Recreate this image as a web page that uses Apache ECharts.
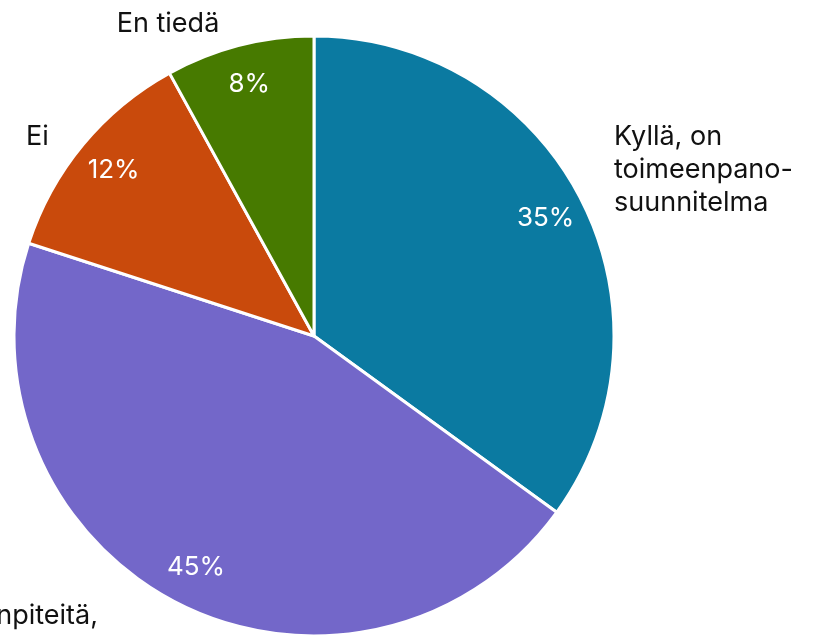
<!DOCTYPE html>
<html>
<head>
<meta charset="utf-8">
<script src="https://cdn.jsdelivr.net/npm/echarts@6/dist/echarts.min.js"></script>
<style>
html,body{margin:0;padding:0;background:#fff;}
#chart{width:831px;height:635px;}
</style>
</head>
<body>
<div id="chart"></div>
<script>
const categories = ["Kyllä, on\ntoimeenpano-\nsuunnitelma", "Kyllä, on toimenpiteitä,\nmutta ei suunnitelmaa", "Ei", "En tiedä"];
const values = [35, 45, 12, 8];
const colors = ["#0b7aa1", "#7367c9", "#c94a0c", "#477a00"];

// label anchors for outer category labels (text placement only)
const labelAnchors = [
  {x: 614, y: 120, align: "left"},
  {x: 98, y: 599, align: "right"},
  {x: 26, y: 120, align: "left"},
  {x: 168, y: 7, align: "center"}
];

const FONT = "Inter, sans-serif";
const chart = echarts.init(document.getElementById('chart'));
const data = categories.map((c, i) => ({name: c, value: values[i], itemStyle: {color: colors[i]}}));

chart.setOption({
  animation: false,
  series: [
    {
      type: 'pie',
      center: [314, 336],
      radius: [0, 300],
      startAngle: 90,
      clockwise: true,
      data: data,
      itemStyle: {borderColor: '#fff', borderWidth: 3},
      label: {
        show: true,
        position: 'outside',
        formatter: '{b}',
        color: '#111111',
        fontSize: 27,
        lineHeight: 33,
        fontFamily: FONT,
        overflow: 'none',
        width: 500
      },
      labelLine: {show: false},
      labelLayout: function (p) {
        const a = labelAnchors[p.dataIndex];
        return {x: a.x, y: a.y, align: a.align, verticalAlign: 'top'};
      },
      emphasis: {disabled: true}
    },
    {
      type: 'pie',
      center: [314, 336],
      radius: [214, 300],
      startAngle: 90,
      clockwise: true,
      silent: true,
      data: categories.map((c, i) => ({name: c, value: values[i]})),
      itemStyle: {color: 'rgba(0,0,0,0)'},
      label: {
        show: true,
        position: 'inside',
        formatter: '{c}%',
        color: '#ffffff',
        fontSize: 26,
        fontFamily: FONT
      },
      labelLine: {show: false},
      emphasis: {disabled: true}
    }
  ]
});
</script>
</body>
</html>
